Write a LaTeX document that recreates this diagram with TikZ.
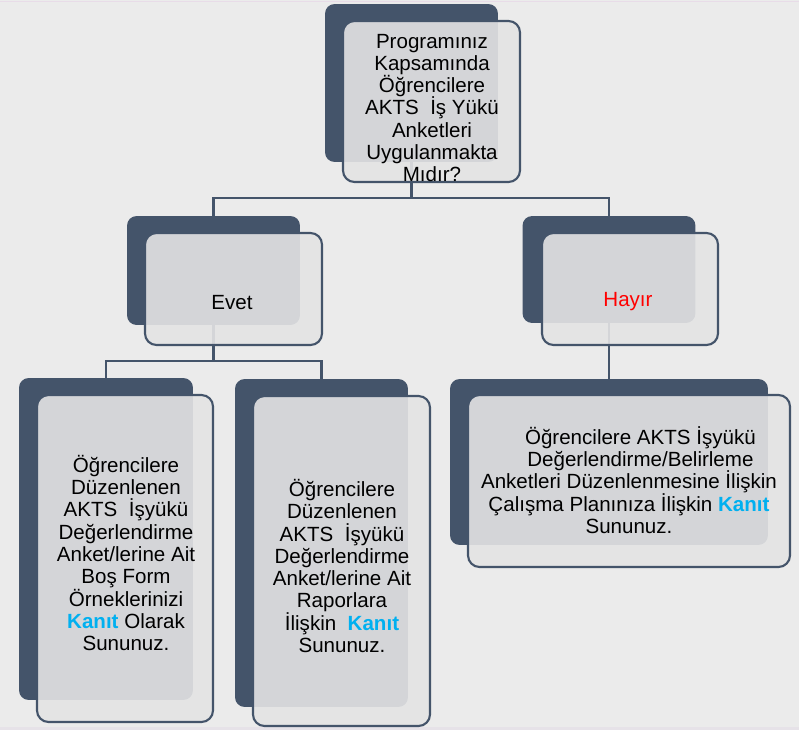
\documentclass[tikz,border=0pt]{standalone}
\usepackage{fontspec}
\setmainfont{Liberation Sans}
\usepackage{tikz}
\usetikzlibrary{backgrounds}
\definecolor{mslate}{RGB}{68,84,106}
\definecolor{mpanel}{RGB}{228,228,228}
\definecolor{mbg}{RGB}{235,235,235}
\definecolor{mrule}{RGB}{232,220,232}
\definecolor{mstrip}{RGB}{230,226,232}
\definecolor{mcyan}{RGB}{0,176,240}
\definecolor{mred}{RGB}{255,0,0}
\newcommand{\kanit}{{\bfseries\color{mcyan}Kanıt}}

\begin{document}
\begin{tikzpicture}[x=0.02cm, y=-0.02cm,
    backbox/.style={fill=mslate, rounded corners=5.5pt, inner sep=0pt},
    frontbox/.style={draw=mslate, line width=1.2pt, fill=mpanel, fill opacity=0.9, rounded corners=6.5pt, inner sep=0pt},
    boxtext/.style={font=\fontsize{11.7}{12.7}\selectfont, align=center, inner sep=0pt},
    link/.style={draw=mslate, line width=1.3pt}]
    \useasboundingbox (0, 0) rectangle (799, 730);

    % question
    \node [backbox, minimum width=3.46cm, minimum height=3.16cm] (qback) at (411.5, 83) {};
    \node [frontbox, minimum width=3.54cm, minimum height=3.22cm] (qfront) at (431.5, 101.5) {};
    \node [boxtext] (qtext) at (432, 108) {Programınız\\Kapsamında\\Öğrencilere\\AKTS\ \ İş Yükü\\Anketleri\\Uygulanmakta\\Mıdır?};

    % evet / hayir
    \node [backbox, minimum width=3.46cm, minimum height=2.18cm] (evetback) at (213.5, 270.5) {};
    \node [frontbox, minimum width=3.54cm, minimum height=2.24cm] (evetfront) at (233.5, 289) {};
    \node [boxtext] (evettext) at (232, 303) {Evet};

    \node [backbox, minimum width=3.46cm, minimum height=2.14cm] (hayirback) at (609, 269.5) {};
    \node [frontbox, minimum width=3.52cm, minimum height=2.24cm] (hayirfront) at (630, 289) {};
    \node [boxtext, mred] (hayirtext) at (628, 302) {Hayır};

    % answers
    \node [backbox, minimum width=3.48cm, minimum height=6.44cm] (formback) at (106, 539) {};
    \node [frontbox, minimum width=3.52cm, minimum height=6.54cm] (formfront) at (125, 558.5) {};
    \node [boxtext] (formtext) at (126, 553) {Öğrencilere\\Düzenlenen\\AKTS\ \ İşyükü\\Değerlendirme\\Anket/lerine Ait\\Boş Form\\Örneklerinizi\\\kanit{} Olarak\\Sununuz.};

    \node [backbox, minimum width=3.46cm, minimum height=6.56cm] (raporback) at (321.5, 543) {};
    \node [frontbox, minimum width=3.54cm, minimum height=6.60cm] (raporfront) at (341.5, 561) {};
    \node [boxtext] (raportext) at (342, 566) {Öğrencilere\\Düzenlenen\\AKTS\ \ İşyükü\\Değerlendirme\\Anket/lerine Ait\\Raporlara\\İlişkin\ \ \kanit\\Sununuz.};

    \node [backbox, minimum width=6.36cm, minimum height=3.32cm] (planback) at (609, 462) {};
    \node [frontbox, minimum width=6.44cm, minimum height=3.44cm] (planfront) at (629, 481) {};
    \node [boxtext] (plantext) at (629, 480) {\hspace*{13pt}Öğrencilere AKTS İşyükü\\\hspace*{13pt}Değerlendirme/Belirleme\\Anketleri Düzenlenmesine İlişkin\\Çalışma Planınıza İlişkin \kanit\\Sununuz.};

    \coordinate (qsplit) at (411.5, 198);
    \coordinate (evetsplit) at (213.5, 361);

    \begin{scope}[on background layer]
      \fill [mbg] (0, 0) rectangle (799, 730);
      \fill [mrule] (0, 0.8) rectangle (799, 2.4);
      \fill [mstrip] (0, 727) rectangle (799, 730);

      \draw [link] (qback.south) -- (qsplit);
      \draw [link] (evetback.north) |- (qsplit) -| (hayirback.north);
      \draw [link] (evetback.south) -- (evetsplit);
      \draw [link] (formback.north) |- (evetsplit) -| (raporback.north);
      \draw [link] (hayirback.south) -- (planback.north);
    \end{scope}
\end{tikzpicture}
\end{document}
